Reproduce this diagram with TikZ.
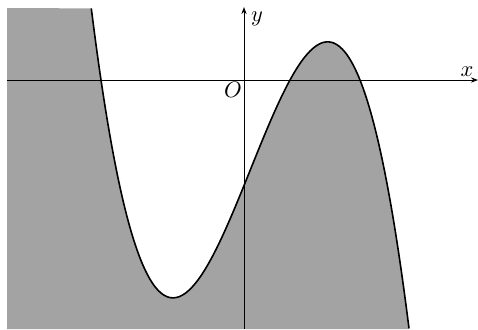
\documentclass[tikz,border=0pt]{standalone}
\usetikzlibrary{arrows.meta}
\begin{document}
\begin{tikzpicture}[x=0.5pt,y=-0.5pt,
  axis/.style={line width=0.5pt,-{Stealth[length=3.5pt,width=2.6pt]}},
  curve/.style={line width=0.8pt},
  shade/.style={fill=black!36},
  lbl/.style={inner sep=0pt,scale=1.12}]
\useasboundingbox (0,0) rectangle (478,329);
\fill[shade] (7,8) -- plot[domain=91.3:409,samples=120,smooth] (\x,{80+138.3*((\x-101)/100)*((\x-290)/100)*((\x-360)/100)}) -- (409,329) -- (7,329) -- cycle;
\coordinate (xs) at (7,80);
\coordinate (xe) at (478,80);
\coordinate (ys) at (244,329);
\coordinate (ye) at (244,7);
\draw[axis] (xs) -- (xe);
\draw[axis] (ys) -- (ye);
\draw[curve] plot[domain=91.3:409,samples=120,smooth] (\x,{80+138.3*((\x-101)/100)*((\x-290)/100)*((\x-360)/100)});
\node[lbl] (xl) at (467,72) {$x$};
\node[lbl] (yl) at (257,19) {$y$};
\node[lbl] (ol) at (233,90) {$O$};
\end{tikzpicture}
\end{document}
